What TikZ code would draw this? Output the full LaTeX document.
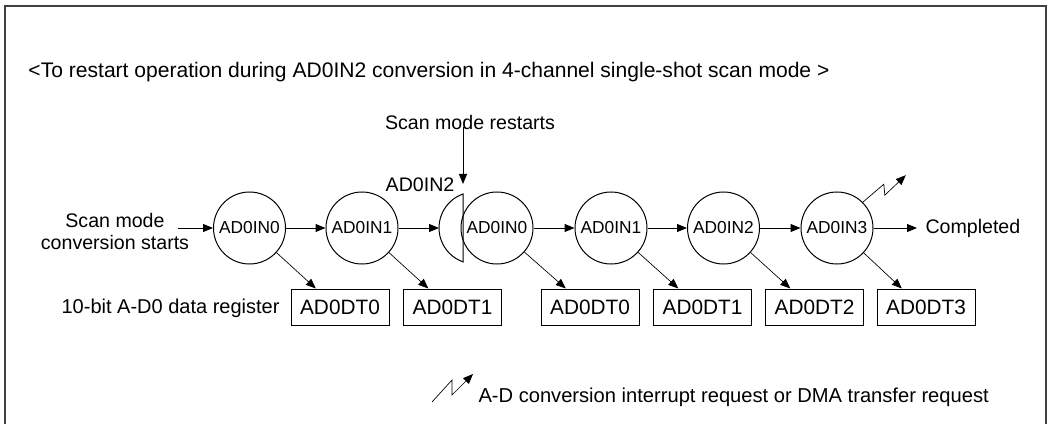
\documentclass[tikz,border=0pt]{standalone}
\usepackage{fontspec}
\setmainfont{Liberation Sans}
\usetikzlibrary{arrows.meta}

\tikzset{every picture/.style={line width=0.75pt}}
\tikzset{
  chan/.style={draw, circle, minimum size=54pt, inner sep=0pt, font=\fontsize{13}{15}\selectfont},
  dreg/.style={draw, rectangle, minimum width=73.5pt, minimum height=27pt, inner sep=0pt, font=\fontsize{15.6}{17}\selectfont},
  txt/.style={inner sep=0pt, font=\fontsize{14.7}{16.5}\selectfont},
  flow/.style={-{Triangle[length=7.5pt,width=6pt]}},
  store/.style={-{Triangle[length=7.5pt,width=6pt]}, line width=0.5pt},
}

\begin{document}
\begin{tikzpicture}[x=0.75pt,y=0.75pt,yscale=-1,xscale=1]
\useasboundingbox (0,0) rectangle (1049,424);

%Shape: Frame
\draw [line width=1pt, black!75] (5,424) -- (5,6) -- (1046,6) -- (1046,424);

% Text Node
\node [txt, anchor=west, font=\fontsize{15.8}{17}\selectfont] (title) at (28,72) {<To restart operation during AD0IN2 conversion in 4-channel single-shot scan mode >};

%Shape: Circles
\node [chan] (in0) at (249.5,228) {AD0IN0};
\node [chan] (in1) at (362,228) {AD0IN1};
\node [chan] (in0b) at (497,228) {AD0IN0};
\node [chan] (in1b) at (611,228) {AD0IN1};
\node [chan] (in2b) at (723.5,228) {AD0IN2};
\node [chan] (in3b) at (837,228) {AD0IN3};

%Shape: Cut circle (interrupted AD0IN2)
\draw (463,194) arc[start angle=-109.47, end angle=-250.53, radius=36] -- cycle;
\coordinate (cut) at (439,228);
\node [txt] (cutlbl) at (420,185) {AD0IN2};

%Shape: Registers
\node [dreg] (dt0) at (340,307) {AD0DT0};
\node [dreg] (dt1) at (452.5,307) {AD0DT1};
\node [dreg] (dt0b) at (590,307) {AD0DT0};
\node [dreg] (dt1b) at (702.5,307) {AD0DT1};
\node [dreg] (dt2b) at (814.5,307) {AD0DT2};
\node [dreg] (dt3b) at (926,307) {AD0DT3};

% Text Node
\node [txt, align=center] (start) at (115,231) {Scan mode\\conversion starts};
\node [txt, anchor=east, font=\fontsize{15}{17}\selectfont] (reglbl) at (280,308) {10-bit A-D0 data register};
\node [txt, anchor=west] (done) at (925,228) {Completed};
\node [txt] (restart) at (470,122) {Scan mode restarts};

%Arrows: conversion order
\coordinate (startpt) at (178,228);
\draw [flow] (startpt) -- (in0);
\draw [flow] (in0) -- (in1);
\draw [flow] (in1) -- (cut);
\draw [flow] (in0b) -- (in1b);
\draw [flow] (in1b) -- (in2b);
\draw [flow] (in2b) -- (in3b);
\draw [flow] (in3b) -- ([xshift=-6pt]done.west);

%Arrow: restart
\coordinate (rtip) at (463,184);
\draw [flow] ([yshift=-2pt]restart.south -| rtip) -- (rtip);

%Arrows: results to registers
\draw [store] (in0) -- ([xshift=19pt]dt0.north west);
\draw [store] (in1) -- ([xshift=19pt]dt1.north west);
\draw [store] (in0b) -- ([xshift=19pt]dt0b.north west);
\draw [store] (in1b) -- ([xshift=19pt]dt1b.north west);
\draw [store] (in2b) -- ([xshift=19pt]dt2b.north west);
\draw [store] (in3b) -- ([xshift=19pt]dt3b.north west);

%Shape: Interrupt request
\draw [store] (in3b.45) -- ++(21,-18) -- ++(1,11) -- ++(21,-20);

%Legend
\coordinate (lg) at (432,402);
\draw [store] (lg) -- ++(20,-22) -- ++(0,15) -- ++(21,-21);
\node [txt, anchor=west, font=\fontsize{15.1}{17}\selectfont] (lgtxt) at (478,397) {A-D conversion interrupt request or DMA transfer request};

\end{tikzpicture}
\end{document}
